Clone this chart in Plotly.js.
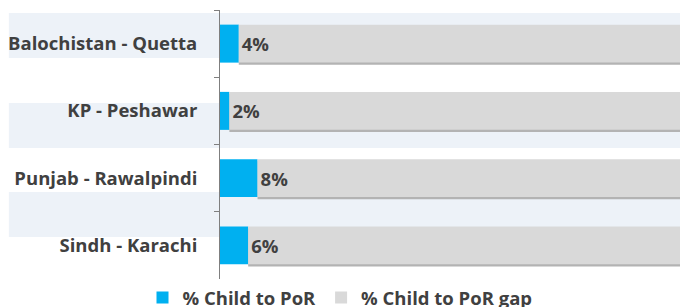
<!DOCTYPE html>
<html>
<head>
<meta charset="utf-8">
<script src="https://cdn.plot.ly/plotly-3.0.1.min.js"></script>
<style>html,body{margin:0;padding:0;background:#fff;}#chart{width:680px;height:307px;}</style>
</head>
<body>
<div id="chart"></div>
<script>
const categories = ["Balochistan - Quetta", "KP - Peshawar", "Punjab - Rawalpindi", "Sindh - Karachi"];
const childToPoR = [4, 2, 8, 6];
const childToPoRGap = [96, 98, 92, 94];
const valueLabels = ["4%", "2%", "8%", "6%"];
const seriesNames = ["% Child to PoR", "% Child to PoR gap"];

const FONT = "'Open Sans', sans-serif";
const TXT = "#404040";
const W = 0.565;

const traces = [
  {
    type: "bar", orientation: "h", name: "shadow", showlegend: false,
    y: categories, x: childToPoRGap, base: childToPoR,
    width: W, offset: -W / 2 + 0.03,
    marker: {color: "#B3B3B3"},
    hoverinfo: "skip"
  },
  {
    type: "bar", orientation: "h", name: seriesNames[0],
    y: categories, x: childToPoR, base: 0,
    width: W, offset: -W / 2,
    marker: {color: "#00B0F0"},
    hoverinfo: "skip"
  },
  {
    type: "bar", orientation: "h", name: seriesNames[1],
    y: categories, x: childToPoRGap, base: childToPoR,
    width: W, offset: -W / 2,
    marker: {color: "#D9D9D9"},
    text: valueLabels, textposition: "inside", insidetextanchor: "start",
    textfont: {family: FONT, size: 18.5, color: TXT, weight: "bold"},
    constraintext: "none",
    hoverinfo: "skip"
  }
];

function band(p0, p1) {
  return {type: "rect", xref: "paper", yref: "paper", x0: -0.459, x1: 1.01,
          y0: p0, y1: p1, fillcolor: "#EDF2F8", line: {width: 0}, layer: "below"};
}

const layout = {
  width: 680, height: 307,
  margin: {l: 220, r: 0, t: 10, b: 28, autoexpand: false},
  paper_bgcolor: "#ffffff",
  plot_bgcolor: "rgba(0,0,0,0)",
  barmode: "overlay",
  showlegend: true,
  legend: {orientation: "h", x: 0.5, xref: "container", xanchor: "center",
           y: 0.0, yref: "paper", yanchor: "top",
           font: {family: FONT, size: 18.5, color: TXT, weight: "bold"},
           itemwidth: 30, traceorder: "normal"},
  xaxis: {range: [0, 98], showticklabels: false, showgrid: false, zeroline: false,
          showline: false, ticks: "", fixedrange: true},
  yaxis: {type: "category", autorange: "reversed", showline: true, linecolor: "#7F7F7F",
          linewidth: 1, ticks: "outside", tickson: "boundaries", ticklen: 5,
          tickcolor: "#7F7F7F", showgrid: false, zeroline: false, ticklabelstandoff: 18,
          tickfont: {family: FONT, size: 18.5, color: TXT, weight: "bold"}},
  shapes: [band(0.989, 0.822), band(0.654, 0.487), band(0.323, 0.156)]
};

Plotly.newPlot("chart", traces, layout, {displayModeBar: false, staticPlot: true});
</script>
</body>
</html>
